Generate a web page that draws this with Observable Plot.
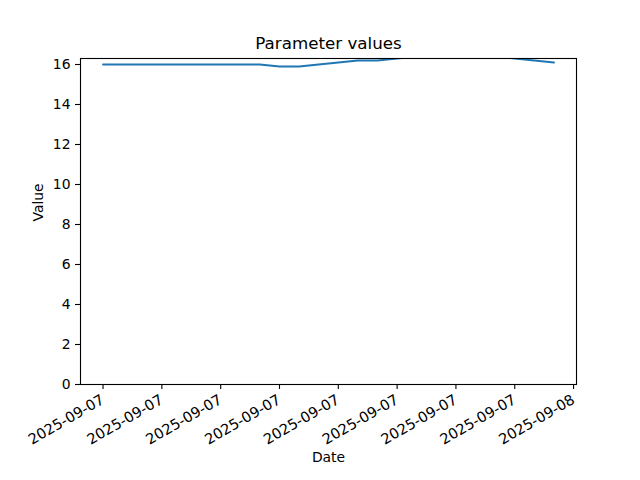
<!DOCTYPE html>
<html>
<head>
<meta charset="utf-8">
<script src="https://cdn.jsdelivr.net/npm/d3@7"></script>
<script src="https://cdn.jsdelivr.net/npm/@observablehq/plot@0.6"></script>
<style>
  html, body { margin: 0; padding: 0; background: #fff; }
</style>
</head>
<body>
<div id="chart"></div>
<script>
const times = [
  "2025-09-07T00:00Z","2025-09-07T01:00Z","2025-09-07T02:00Z","2025-09-07T03:00Z",
  "2025-09-07T04:00Z","2025-09-07T05:00Z","2025-09-07T06:00Z","2025-09-07T07:00Z",
  "2025-09-07T08:00Z","2025-09-07T09:00Z","2025-09-07T10:00Z","2025-09-07T11:00Z",
  "2025-09-07T12:00Z","2025-09-07T13:00Z","2025-09-07T14:00Z","2025-09-07T15:00Z",
  "2025-09-07T16:00Z","2025-09-07T17:00Z","2025-09-07T18:00Z","2025-09-07T19:00Z",
  "2025-09-07T20:00Z","2025-09-07T21:00Z","2025-09-07T22:00Z","2025-09-07T23:00Z"
];
const values = [16, 16, 16, 16, 16, 16, 16, 16, 16, 15.9, 15.9, 16.0,
                16.1, 16.2, 16.2, 16.3, 16.4, 16.5, 16.5, 16.5, 16.4, 16.3, 16.2, 16.1];
const xTicks = [
  "2025-09-07T00:00Z","2025-09-07T03:00Z","2025-09-07T06:00Z","2025-09-07T09:00Z",
  "2025-09-07T12:00Z","2025-09-07T15:00Z","2025-09-07T18:00Z","2025-09-07T21:00Z",
  "2025-09-08T00:00Z"
];
const yTicks = [0, 2, 4, 6, 8, 10, 12, 14, 16];
const yMax = 16.3;
const titleText = "Parameter values";
const xLabel = "Date";
const yLabel = "Value";

const data = times.map((t, i) => ({date: new Date(t), value: values[i]}));
const t0 = +data[0].date, t1 = +data[data.length - 1].date;
const pad = (t1 - t0) * 0.05;
const fmt = d3.utcFormat("%Y-%m-%d");
const FS = 13.9;

const chart = Plot.plot({
  width: 640,
  height: 480,
  marginLeft: 80,
  marginRight: 64,
  marginTop: 58,
  marginBottom: 96,
  style: {fontFamily: "DejaVu Sans", fontSize: FS + "px", color: "black", background: "white"},
  x: {type: "utc", domain: [new Date(t0 - pad), new Date(t1 + pad)]},
  y: {domain: [0, yMax]},
  marks: [
    Plot.lineY(data, {x: "date", y: "value", stroke: "#1f77b4", strokeWidth: 2, clip: true}),
    Plot.frame({stroke: "black", strokeWidth: 1.1}),
    Plot.axisX({ticks: xTicks.map(d => new Date(d)), tickFormat: fmt, tickSize: 5, tickPadding: 9,
      tickRotate: -30, label: null, fontSize: 14.6, strokeWidth: 1.1}),
    Plot.axisY({ticks: yTicks, tickSize: 5, tickPadding: 5, label: null, fontSize: FS, strokeWidth: 1.1}),
    Plot.text([titleText], {frameAnchor: "top", dy: -15, lineAnchor: "middle", fontSize: 16.7}),
    Plot.text([xLabel], {frameAnchor: "bottom", dy: 73, lineAnchor: "middle", fontSize: FS}),
    Plot.text([yLabel], {frameAnchor: "left", dx: -42, rotate: -90, lineAnchor: "middle", fontSize: FS})
  ]
});
document.getElementById("chart").appendChild(chart);
</script>
</body>
</html>
